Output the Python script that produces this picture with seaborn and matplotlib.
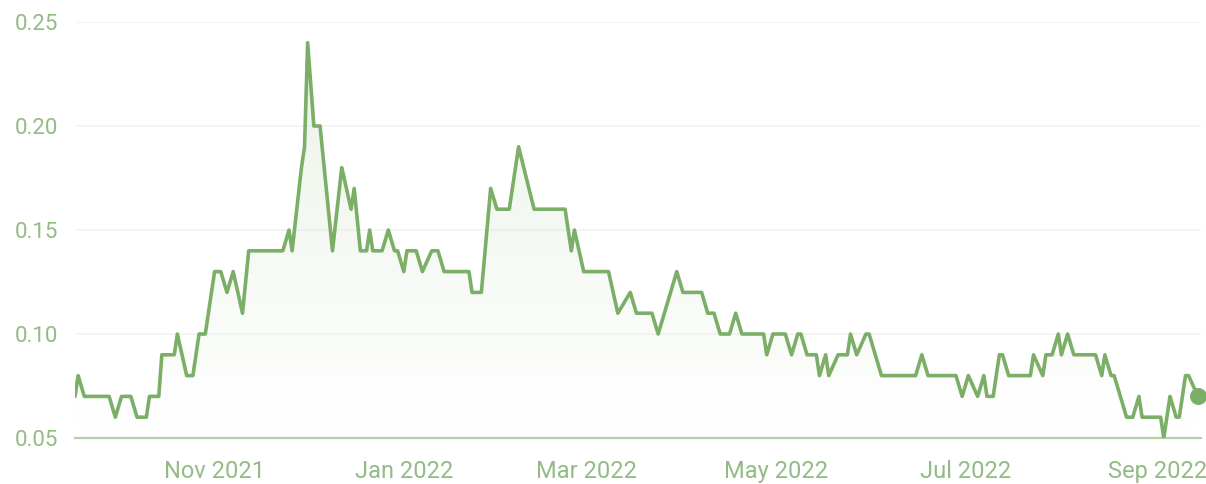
import numpy as np
import pandas as pd
import matplotlib
matplotlib.use("Agg")
import matplotlib.pyplot as plt
import matplotlib.dates as mdates
import seaborn as sns

# points (date, value)
dates = [
    "2021-09-17", "2021-09-18", "2021-09-20", "2021-09-28", "2021-09-30", "2021-10-02",
    "2021-10-05", "2021-10-07", "2021-10-10", "2021-10-11", "2021-10-14", "2021-10-15",
    "2021-10-19", "2021-10-20", "2021-10-23", "2021-10-25", "2021-10-27", "2021-10-29",
    "2021-11-01", "2021-11-03", "2021-11-05", "2021-11-07", "2021-11-10", "2021-11-12",
    "2021-11-23", "2021-11-25", "2021-11-26", "2021-11-29", "2021-11-30", "2021-12-01",
    "2021-12-03", "2021-12-05", "2021-12-09", "2021-12-12", "2021-12-15", "2021-12-16",
    "2021-12-18", "2021-12-20", "2021-12-21", "2021-12-22", "2021-12-25", "2021-12-27",
    "2021-12-29", "2021-12-30", "2022-01-01", "2022-01-02", "2022-01-05", "2022-01-07",
    "2022-01-10", "2022-01-12", "2022-01-14", "2022-01-22", "2022-01-23", "2022-01-26",
    "2022-01-29", "2022-01-31", "2022-02-04", "2022-02-07", "2022-02-12", "2022-02-22",
    "2022-02-24", "2022-02-25", "2022-02-28", "2022-03-08", "2022-03-11", "2022-03-15",
    "2022-03-17", "2022-03-22", "2022-03-24", "2022-03-30", "2022-04-01", "2022-04-07",
    "2022-04-09", "2022-04-11", "2022-04-13", "2022-04-16", "2022-04-18", "2022-04-20",
    "2022-04-27", "2022-04-28", "2022-04-30", "2022-05-04", "2022-05-06", "2022-05-08",
    "2022-05-09", "2022-05-11", "2022-05-14", "2022-05-15", "2022-05-17", "2022-05-18",
    "2022-05-21", "2022-05-24", "2022-05-25", "2022-05-27", "2022-05-30", "2022-05-31",
    "2022-06-04", "2022-06-15", "2022-06-17", "2022-06-19", "2022-06-28", "2022-06-30",
    "2022-07-02", "2022-07-05", "2022-07-07", "2022-07-08", "2022-07-10", "2022-07-12",
    "2022-07-13", "2022-07-15", "2022-07-22", "2022-07-23", "2022-07-26", "2022-07-27",
    "2022-07-29", "2022-07-31", "2022-08-01", "2022-08-03", "2022-08-05", "2022-08-12",
    "2022-08-14", "2022-08-15", "2022-08-17", "2022-08-18", "2022-08-20", "2022-08-22",
    "2022-08-24", "2022-08-26", "2022-08-27", "2022-09-02", "2022-09-03", "2022-09-05",
    "2022-09-07", "2022-09-08", "2022-09-10", "2022-09-11", "2022-09-14",
]
values = [
    0.07, 0.08, 0.07, 0.07, 0.06, 0.07,
    0.07, 0.06, 0.06, 0.07, 0.07, 0.09,
    0.09, 0.10, 0.08, 0.08, 0.10, 0.10,
    0.13, 0.13, 0.12, 0.13, 0.11, 0.14,
    0.14, 0.15, 0.14, 0.18, 0.19, 0.24,
    0.20, 0.20, 0.14, 0.18, 0.16, 0.17,
    0.14, 0.14, 0.15, 0.14, 0.14, 0.15,
    0.14, 0.14, 0.13, 0.14, 0.14, 0.13,
    0.14, 0.14, 0.13, 0.13, 0.12, 0.12,
    0.17, 0.16, 0.16, 0.19, 0.16, 0.16,
    0.14, 0.15, 0.13, 0.13, 0.11, 0.12,
    0.11, 0.11, 0.10, 0.13, 0.12, 0.12,
    0.11, 0.11, 0.10, 0.10, 0.11, 0.10,
    0.10, 0.09, 0.10, 0.10, 0.09, 0.10,
    0.10, 0.09, 0.09, 0.08, 0.09, 0.08,
    0.09, 0.09, 0.10, 0.09, 0.10, 0.10,
    0.08, 0.08, 0.09, 0.08, 0.08, 0.07,
    0.08, 0.07, 0.08, 0.07, 0.07, 0.09,
    0.09, 0.08, 0.08, 0.09, 0.08, 0.09,
    0.09, 0.10, 0.09, 0.10, 0.09, 0.09,
    0.08, 0.09, 0.08, 0.08, 0.07, 0.06,
    0.06, 0.07, 0.06, 0.06, 0.05, 0.07,
    0.06, 0.06, 0.08, 0.08, 0.07,
]
y_ticks = [0.05, 0.10, 0.15, 0.20, 0.25]
x_ticks = ["2021-11-01", "2022-01-01", "2022-03-01", "2022-05-01", "2022-07-01", "2022-09-01"]

df = pd.DataFrame({"date": pd.to_datetime(dates), "value": values})

line_color = "#7bae67"
text_color = "#93bb85"
axis_color = "#b3d3a6"

sns.set_style("white")
plt.rcParams["font.family"] = ["Roboto", "DejaVu Sans"]

fig = plt.figure(figsize=(12.06, 4.84), dpi=100)
ax = fig.add_axes([75 / 1206, 46 / 484, 1126 / 1206, 416 / 484])

x_start = pd.Timestamp("2021-09-17")
x_end = pd.Timestamp("2022-09-15")
ax.set_xlim(x_start, x_end)
ax.set_ylim(0.05, 0.25)

# gradient fill under the line
poly = ax.fill_between(df["date"], df["value"], 0.05, color="none")
grad = np.linspace(0, 1, 256).reshape(-1, 1)
rgba = np.zeros((256, 1, 4))
rgba[..., :3] = matplotlib.colors.to_rgb(line_color)
rgba[..., 3] = 0.16 * grad
img = ax.imshow(rgba, aspect="auto", origin="lower",
                extent=[mdates.date2num(x_start), mdates.date2num(x_end), 0.05, 0.25],
                zorder=1)
img.set_clip_path(poly.get_paths()[0], transform=ax.transData)

sns.lineplot(data=df, x="date", y="value", ax=ax, color=line_color, linewidth=2.6,
             solid_joinstyle="round", solid_capstyle="round", zorder=3)
ax.scatter(df["date"].iloc[-1], df["value"].iloc[-1], s=150, color=line_color,
           zorder=4, clip_on=False, linewidths=0)

ax.set_yticks(y_ticks)
ax.set_yticklabels([f"{v:.2f}" for v in y_ticks])
ax.set_xticks(pd.to_datetime(x_ticks))
ax.xaxis.set_major_formatter(mdates.DateFormatter("%b %Y"))
ax.grid(axis="y", color="#f2f4f1", linewidth=1.2)
ax.set_axisbelow(True)

for s in ["top", "right", "left"]:
    ax.spines[s].set_visible(False)
ax.spines["bottom"].set_color(axis_color)
ax.spines["bottom"].set_linewidth(1.6)

ax.tick_params(axis="x", colors=axis_color, length=6, width=1.6, pad=10,
               labelcolor=text_color, labelsize=17)
ax.tick_params(axis="y", length=0, pad=12, labelcolor=text_color, labelsize=16)
ax.set_xlabel("")
ax.set_ylabel("")

fig.savefig("out.png", dpi=100)
